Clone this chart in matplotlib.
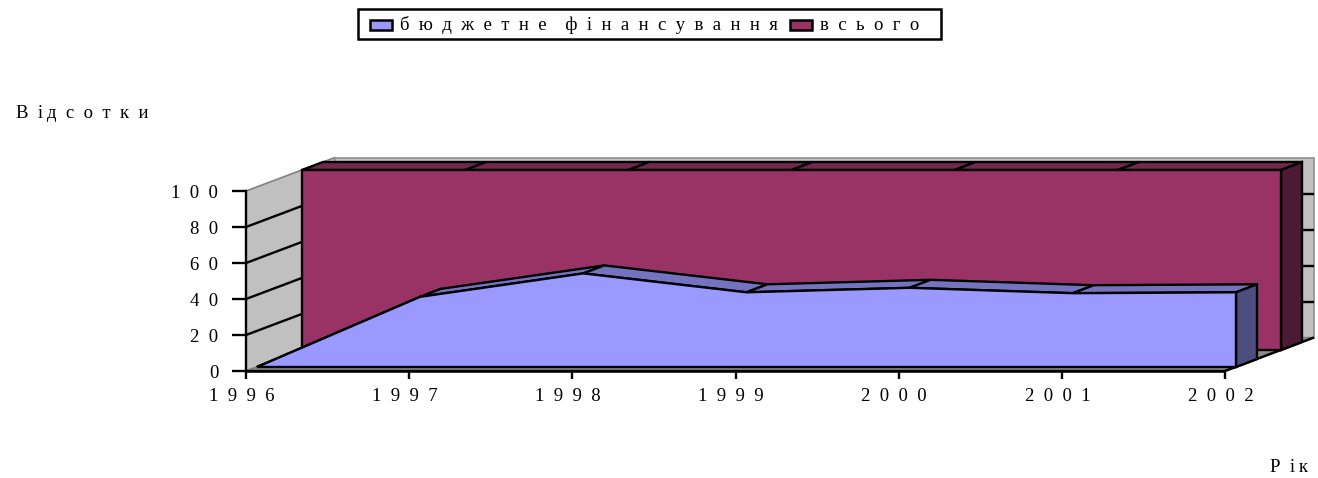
import matplotlib
matplotlib.use("Agg")
import matplotlib.pyplot as plt
from matplotlib.patches import Polygon, Rectangle
from matplotlib.transforms import ScaledTranslation

SP = "\u2002"
THIN = "\u2009"
years = [1996, 1997, 1998, 1999, 2000, 2001, 2002]
budget = [0, 39, 52, 41.5, 44, 41, 41.5]
total = [100, 100, 100, 100, 100, 100, 100]
y_ticks = [0, 20, 40, 60, 80, 100]
legend_labels = [SP.join("бюджетне") + SP + SP + SP.join("фінансування"), SP.join("всього")]
y_title = "В" + SP + "і" + THIN + "д" + SP + SP.join("сотки")
x_title = "Р" + SP + "і" + THIN + "к"

W, H = 1318, 478
FS = 13.5
plt.rcParams['font.family'] = ['Liberation Serif', 'DejaVu Serif']
fig = plt.figure(figsize=(W / 100, H / 100), dpi=100, facecolor='white')
# axes: front plane of the chart
L, R, B, T = 246, 1225, 371, 191
ax = fig.add_axes([L / W, 1 - B / H, (R - L) / W, (B - T) / H])
ax.set_xlim(years[0], years[-1])
ax.set_ylim(0, 100)
ax.patch.set_visible(False)
ppx = (R - L) / (years[-1] - years[0])
ppy = (B - T) / 100

def P(year, val, dx, dy):
    """data point shifted by a depth offset in pixels"""
    return (year + dx / ppx, val + dy / ppy)

def poly(pts, fc, z, lw=1.7, ec='black'):
    ax.add_patch(Polygon(pts, closed=True, fc=fc, ec=ec, lw=lw, zorder=z,
                         clip_on=False, joinstyle='miter'))

def seg(a, b, z, lw=1.7, c='black'):
    ax.plot([a[0], b[0]], [a[1], b[1]], color=c, lw=lw, zorder=z, clip_on=False,
            solid_capstyle='butt')

WALL, FLOOR = '#C0C0C0', '#8C8C8C'
BACK = (89, 33.5)
y0, y1 = years[0], years[-1]
# walls and floor
poly([P(y0, 0, 0, 0), P(y0, 100, 0, 0), P(y0, 100, *BACK), P(y0, 0, *BACK)], WALL, 1, 1.2, '#808080')
poly([P(y0, 0, *BACK), P(y0, 100, *BACK), P(y1, 100, *BACK), P(y1, 0, *BACK)], WALL, 1, 1.2, '#909090')
poly([P(y0, 0, 0, 0), P(y1, 0, 0, 0), P(y1, 0, *BACK), P(y0, 0, *BACK)], FLOOR, 1, 1.0, '#808080')
for v in y_ticks[1:-1]:
    seg(P(y0, v, 0, 0), P(y0, v, *BACK), 2)
    seg(P(y0, v, *BACK), P(y1, v, *BACK), 2)
seg(P(y1, 0, 0, 0), P(y1, 0, *BACK), 2, 1.8)
seg(P(y0, 0, 0, 0), P(y1, 0, 0, 0), 8, 1.8)

def area(values, front, back, face, top, side, z):
    base = [P(years[0], 0, *front)]
    for i in range(len(years) - 1):
        poly([P(years[i], values[i], *front), P(years[i + 1], values[i + 1], *front),
              P(years[i + 1], values[i + 1], *back), P(years[i], values[i], *back)], top, z)
    poly([P(y1, 0, *front), P(y1, values[-1], *front), P(y1, values[-1], *back), P(y1, 0, *back)], side, z)
    poly(base + [P(y, v, *front) for y, v in zip(years, values)] + [P(y1, 0, *front)], face, z + 1)

area(total, (56, 21), (77, 29), '#993366', '#732650', '#4D1A33', 3)
area(budget, (11, 4), (32, 12), '#9999FF', '#7373BF', '#4D4D80', 5)

# axes furniture
for s in ('top', 'right'):
    ax.spines[s].set_visible(False)
for s in ('left', 'bottom'):
    ax.spines[s].set_linewidth(1.7)
    ax.spines[s].set_zorder(8)
ax.set_xticks(years)
ax.set_xticklabels([SP.join(str(y)) for y in years], fontsize=FS, color='black')
ax.set_yticks(y_ticks)
ax.set_yticklabels([SP.join(str(v)) for v in y_ticks], fontsize=FS, color='black')
ax.tick_params(axis='x', length=6, width=1.7, pad=6)
ax.tick_params(axis='y', length=10, width=1.7, pad=10)
shift = ScaledTranslation(-4.5 / 100, 0, fig.dpi_scale_trans)
for lab in ax.get_xticklabels():
    lab.set_transform(lab.get_transform() + shift)

# titles
fig.text(16 / W, 1 - 118 / H, y_title, fontsize=FS, va='baseline', ha='left')
fig.text(1270 / W, 1 - 472 / H, x_title, fontsize=FS, va='baseline', ha='left')

# legend
fig.add_artist(Rectangle((358 / W, 1 - 39 / H), 583 / W, 30 / H, transform=fig.transFigure,
                         fc='white', ec='black', lw=1.8))
for x0, col in ((370, '#9999FF'), (790, '#993366')):
    fig.add_artist(Rectangle((x0 / W, 1 - 30 / H), 22 / W, 10 / H, transform=fig.transFigure,
                             fc=col, ec='black', lw=1.8))
fig.text(400 / W, 1 - 30 / H, legend_labels[0], fontsize=FS, va='baseline', ha='left')
fig.text(820 / W, 1 - 30 / H, legend_labels[1], fontsize=FS, va='baseline', ha='left')

fig.savefig('out.png', dpi=100, facecolor='white')
